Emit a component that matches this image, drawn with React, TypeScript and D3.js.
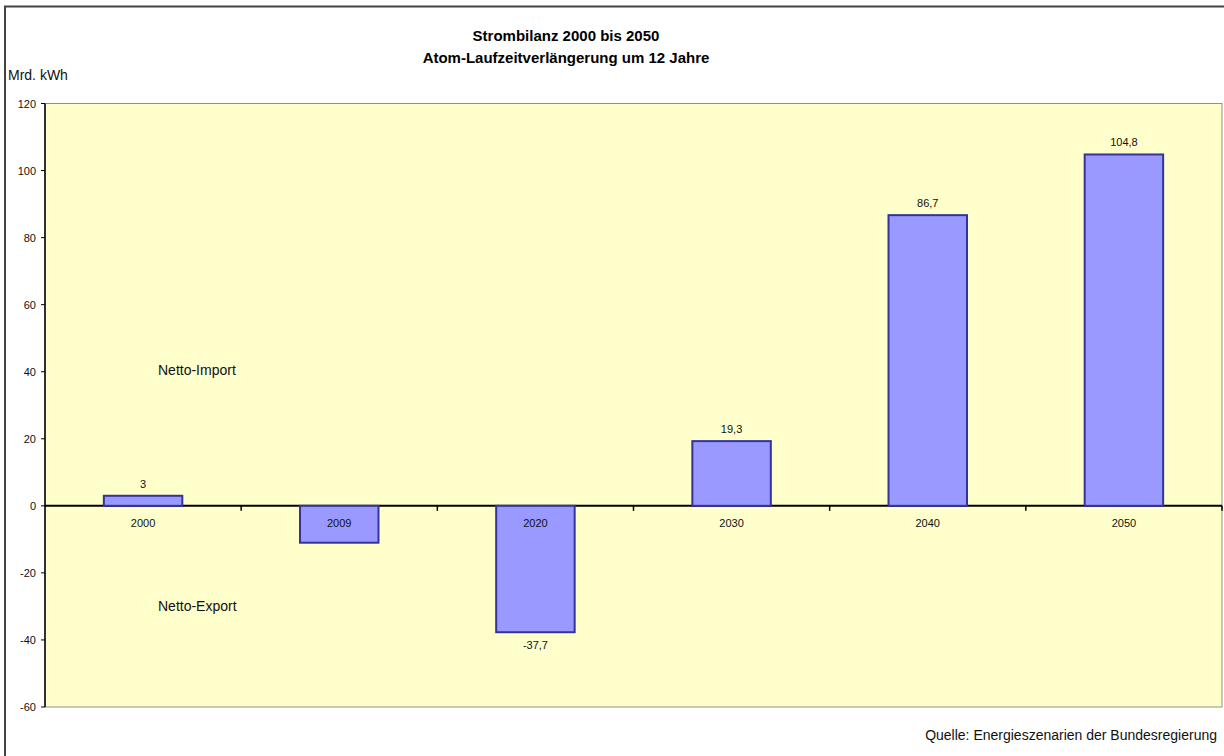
import { useEffect, useRef } from "react";
import * as d3 from "d3";

const years = ["2000", "2009", "2020", "2030", "2040", "2050"];
const balance = [3, -11, -37.7, 19.3, 86.7, 104.8];
const shownLabels = ["3", "", "-37,7", "19,3", "86,7", "104,8"];
const yTicks = [-60, -40, -20, 0, 20, 40, 60, 80, 100, 120];

const W = 1224;
const H = 756;
const font = "Arial, 'Liberation Sans', sans-serif";

export default function App() {
  const ref = useRef<SVGSVGElement>(null);

  useEffect(() => {
    const svg = d3.select(ref.current);
    svg.selectAll("*").remove();

    const left = 45;
    const right = 1222;
    const top = 103.5;
    const bottom = 707;

    const x = d3.scaleBand().domain(years).range([left, right]).paddingInner(0.6).paddingOuter(0.3);
    const band = d3.scaleBand().domain(years).range([left, right]);
    const y = d3.scaleLinear().domain([-60, 120]).range([bottom, top]);

    // outer frame
    svg.append("rect").attr("x", 0).attr("y", 0).attr("width", W).attr("height", H).attr("fill", "#fff");
    svg
      .append("path")
      .attr("d", `M5,${H + 5}V6.5H${W + 5}`)
      .attr("fill", "none")
      .attr("stroke", "#444")
      .attr("stroke-width", 2);

    // plot background
    svg
      .append("rect")
      .attr("x", left)
      .attr("y", top)
      .attr("width", right - left)
      .attr("height", bottom - top)
      .attr("fill", "#FFFFCC")
      .attr("stroke", "#909090")
      .attr("stroke-width", 1);

    // zero axis
    svg
      .append("line")
      .attr("x1", left)
      .attr("x2", right)
      .attr("y1", y(0))
      .attr("y2", y(0))
      .attr("stroke", "#000")
      .attr("stroke-width", 2);

    // bars
    svg
      .append("g")
      .selectAll("rect")
      .data(balance)
      .join("rect")
      .attr("x", (d, i) => x(years[i])!)
      .attr("width", x.bandwidth())
      .attr("y", (d) => y(Math.max(0, d)))
      .attr("height", (d) => Math.abs(y(d) - y(0)))
      .attr("fill", "#9999FF")
      .attr("stroke", "#333399")
      .attr("stroke-width", 2);

    // value labels
    svg
      .append("g")
      .attr("font-family", font)
      .attr("font-size", 11)
      .attr("fill", "#111")
      .attr("text-anchor", "middle")
      .selectAll("text")
      .data(balance)
      .join("text")
      .attr("x", (d, i) => x(years[i])! + x.bandwidth() / 2)
      .attr("y", (d) => (d >= 0 ? y(d) - 8 : y(d) + 17))
      .text((d, i) => shownLabels[i]);

    // y axis
    const yAxis = svg.append("g").attr("font-family", font).attr("font-size", 11);
    yAxis
      .append("line")
      .attr("x1", left)
      .attr("x2", left)
      .attr("y1", top)
      .attr("y2", bottom)
      .attr("stroke", "#000")
      .attr("stroke-width", 1.5);
    const yt = yAxis.selectAll("g").data(yTicks).join("g");
    yt.append("line")
      .attr("x1", left - 4)
      .attr("x2", left)
      .attr("y1", (d) => y(d))
      .attr("y2", (d) => y(d))
      .attr("stroke", "#000");
    yt.append("text")
      .attr("x", left - 9)
      .attr("y", (d) => y(d) + 4)
      .attr("text-anchor", "end")
      .attr("fill", "#111")
      .text((d) => d);

    // category ticks and labels
    svg
      .append("g")
      .selectAll("line")
      .data(years)
      .join("line")
      .attr("x1", (d) => band(d)! + band.bandwidth())
      .attr("x2", (d) => band(d)! + band.bandwidth())
      .attr("y1", y(0))
      .attr("y2", y(0) + 5)
      .attr("stroke", "#000")
      .attr("stroke-width", 1.5);
    svg
      .append("g")
      .attr("font-family", font)
      .attr("font-size", 11)
      .attr("fill", "#111")
      .attr("text-anchor", "middle")
      .selectAll("text")
      .data(years)
      .join("text")
      .attr("x", (d) => band(d)! + band.bandwidth() / 2)
      .attr("y", y(0) + 21)
      .text((d) => d);

    // annotations
    const notes = svg.append("g").attr("font-family", font).attr("font-size", 14).attr("fill", "#111");
    notes.append("text").attr("x", 158).attr("y", y(40) + 3).text("Netto-Import");
    notes.append("text").attr("x", 158).attr("y", y(-30) + 5).text("Netto-Export");
    notes.append("text").attr("x", 8).attr("y", 80).text("Mrd. kWh");
    notes
      .append("text")
      .attr("x", 1217)
      .attr("y", 740)
      .attr("text-anchor", "end")
      .text("Quelle: Energieszenarien der Bundesregierung");

    const title = svg
      .append("g")
      .attr("font-family", font)
      .attr("font-size", 15)
      .attr("font-weight", "bold")
      .attr("fill", "#000")
      .attr("text-anchor", "middle");
    title.append("text").attr("x", 566).attr("y", 41).text("Strombilanz 2000 bis 2050");
    title.append("text").attr("x", 566).attr("y", 63).text("Atom-Laufzeitverlängerung um 12 Jahre");
  }, []);

  return (
    <svg
      ref={ref}
      width={W}
      height={H}
      style={{ position: "absolute", left: 0, top: 0, display: "block" }}
    />
  );
}
